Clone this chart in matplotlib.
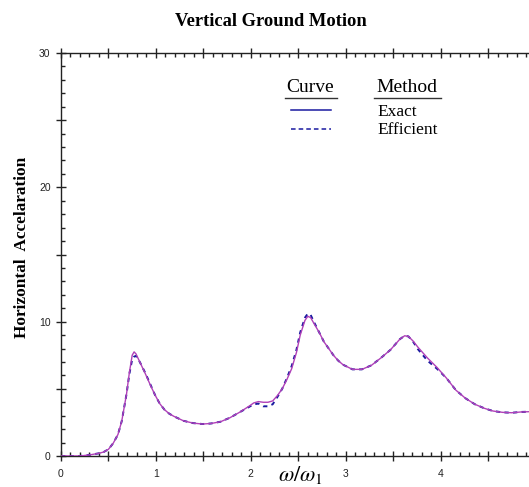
import matplotlib
matplotlib.use("Agg")
import matplotlib.pyplot as plt
from matplotlib.lines import Line2D
from matplotlib.ticker import MultipleLocator

# ---- data ----
freq_ratio = [0.0, 0.2, 0.3, 0.4, 0.45, 0.5, 0.55, 0.6, 0.64, 0.69, 0.72, 0.75, 0.77,
              0.79, 0.83, 0.89, 0.94, 0.99, 1.04, 1.09, 1.14, 1.19, 1.29, 1.39, 1.49, 1.58,
              1.68, 1.78, 1.88, 1.98, 2.03, 2.08, 2.13, 2.18, 2.23, 2.28, 2.33, 2.38,
              2.43, 2.48, 2.52, 2.57, 2.60, 2.63, 2.67, 2.72, 2.77, 2.82, 2.87, 2.92,
              2.97, 3.07, 3.17, 3.27, 3.37, 3.47, 3.57, 3.62, 3.66, 3.71, 3.76, 3.86,
              3.96, 4.06, 4.16, 4.26, 4.36, 4.46, 4.55, 4.65, 4.75, 4.85, 4.94]

exact = [0.0, 0.0, 0.08, 0.2, 0.3, 0.5, 0.95, 1.6, 2.6, 4.6, 6.2, 7.5, 7.75,
         7.6, 7.0, 6.1, 5.3, 4.55, 3.9, 3.45, 3.15, 2.95, 2.62, 2.45, 2.38, 2.42,
         2.55, 2.85, 3.25, 3.7, 3.95, 4.05, 4.0, 4.0, 4.1, 4.5, 5.0, 5.7,
         6.5, 7.7, 9.0, 10.1, 10.4, 10.3, 9.8, 9.2, 8.5, 8.0, 7.5, 7.1,
         6.8, 6.45, 6.45, 6.75, 7.3, 7.9, 8.7, 8.95, 8.9, 8.55, 8.1, 7.3,
         6.6, 5.8, 4.9, 4.3, 3.85, 3.55, 3.35, 3.25, 3.22, 3.28, 3.3]

efficient = [0.0, 0.0, 0.08, 0.2, 0.3, 0.5, 0.95, 1.6, 2.6, 4.6, 6.1, 7.2, 7.4,
             7.45, 7.0, 6.15, 5.35, 4.55, 3.9, 3.45, 3.15, 2.95, 2.62, 2.45, 2.38, 2.42,
             2.55, 2.85, 3.25, 3.65, 3.85, 3.9, 3.7, 3.7, 3.85, 4.4, 5.0, 5.8,
             6.7, 7.9, 9.2, 10.3, 10.6, 10.5, 9.9, 9.2, 8.5, 8.0, 7.5, 7.1,
             6.8, 6.45, 6.45, 6.75, 7.3, 7.9, 8.7, 8.95, 8.9, 8.5, 7.95, 7.1,
             6.5, 5.8, 4.9, 4.3, 3.85, 3.55, 3.35, 3.25, 3.22, 3.28, 3.3]

x_tick_labels = ["0", "1", "2", "3", "4"]
y_tick_labels = ["0", "10", "20", "30"]

title = "Vertical Ground Motion"
ylabel = "Horizontal  Accelaration"
legend_headers = ["Curve", "Method"]
legend_names = ["Exact", "Efficient"]

# ---- figure ----
W, H = 529, 487
plt.rcParams['mathtext.fontset'] = 'stix'
fig = plt.figure(figsize=(W / 100, H / 100), dpi=100)

def fx(px):
    return px / W

def fy(py):
    return 1 - py / H

ax = fig.add_axes([fx(61), fy(456), 1 - fx(61), fy(53) - fy(456)])

ax.plot(freq_ratio, efficient, color="#1a1aa0", lw=1.4, dashes=(2.2, 2.2), zorder=2)
ax.plot(freq_ratio, exact, color="#b040b8", lw=1.0, zorder=3)

ax.spines["right"].set_visible(False)
for s in ["left", "bottom", "top"]:
    ax.spines[s].set_linewidth(1.0)
    ax.spines[s].set_color("#222222")

ax.xaxis.set_major_locator(MultipleLocator(0.5))
ax.xaxis.set_minor_locator(MultipleLocator(0.1))
ax.yaxis.set_major_locator(MultipleLocator(5))
ax.yaxis.set_minor_locator(MultipleLocator(1))

xt = [i * 0.5 for i in range(10)]
ax.set_xticks(xt)
ax.set_xticklabels([x_tick_labels[int(v)] if v == int(v) else "" for v in xt])
yt = [i * 5 for i in range(7)]
ax.set_yticks(yt)
ax.set_yticklabels([y_tick_labels[v // 10] if v % 10 == 0 else "" for v in yt])
ax.set_xlim(0, 4.93)
ax.set_ylim(0, 30)

ax.tick_params(which="major", direction="inout", length=7, width=1, top=True,
               labelsize=7.5, pad=4, colors="#222222")
ax.tick_params(which="minor", direction="in", length=3, width=1, top=True,
               colors="#222222")
ax.tick_params(axis="x", which="major", pad=6)
for lab in ax.get_xticklabels() + ax.get_yticklabels():
    lab.set_fontfamily("Liberation Sans")

fig.text(fx(271), fy(21), title, ha="center", va="center",
         fontfamily="Liberation Serif", fontweight="bold", fontsize=13.3)
fig.text(fx(22), fy(247), ylabel, ha="center", va="center", rotation=90,
         fontfamily="Liberation Serif", fontweight="bold", fontsize=12.4)
fig.text(fx(300), fy(475), r"$\omega/\omega_1$", ha="center", va="center", fontsize=16)

# legend block
fig.text(fx(310), fy(87), legend_headers[0], ha="center", va="center",
         fontfamily="Liberation Serif", fontsize=14)
fig.text(fx(407), fy(87), legend_headers[1], ha="center", va="center",
         fontfamily="Liberation Serif", fontsize=14)
fig.add_artist(Line2D([fx(285), fx(337)], [fy(98), fy(98)], color="#333333", lw=1))
fig.add_artist(Line2D([fx(374), fx(441)], [fy(98), fy(98)], color="#333333", lw=1))
fig.add_artist(Line2D([fx(291), fx(331)], [fy(110), fy(110)], color="#1a1aa0", lw=1.1))
fig.add_artist(Line2D([fx(291), fx(331)], [fy(129), fy(129)], color="#1a1aa0", lw=1.1,
                      dashes=(3, 2)))
fig.text(fx(377), fy(112), legend_names[0], ha="left", va="center",
         fontfamily="Liberation Serif", fontsize=12.5)
fig.text(fx(377), fy(130), legend_names[1], ha="left", va="center",
         fontfamily="Liberation Serif", fontsize=12.5)

fig.savefig("out.png", dpi=100)
